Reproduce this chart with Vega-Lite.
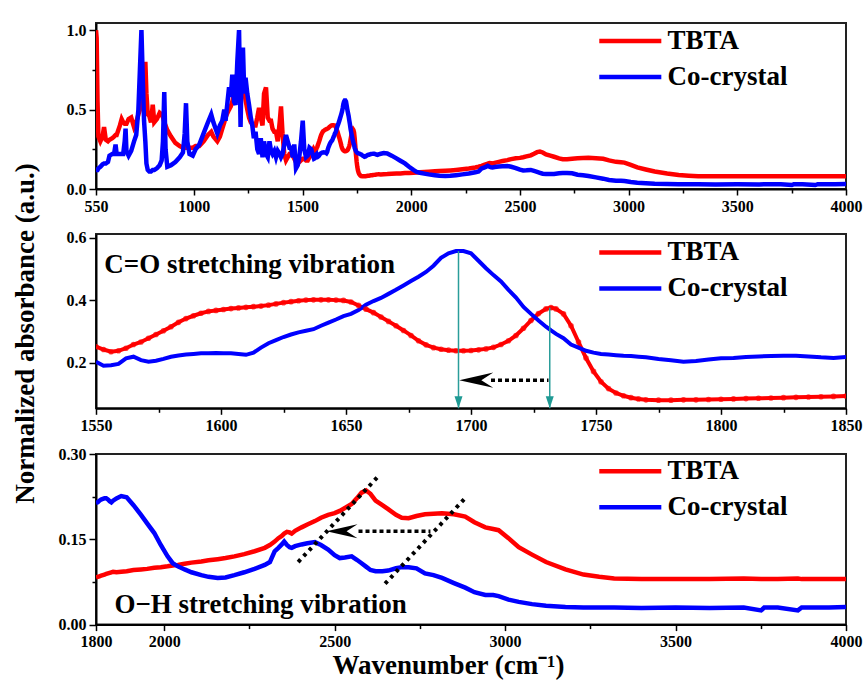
{
  "$schema": "https://vega.github.io/schema/vega-lite/v6.json",
  "background": "white",
  "padding": {"left": 9, "top": 21, "right": 0, "bottom": 0},
  "datasets": {
    "spectra": [
      {"w":550,"TBTA":1.0,"Co-crystal":0.12},{"w":553,"TBTA":0.95,"Co-crystal":0.12},{"w":557,"TBTA":0.55,"Co-crystal":0.12},
      {"w":561,"TBTA":0.33,"Co-crystal":0.13},{"w":570,"TBTA":0.30,"Co-crystal":0.14},{"w":580,"TBTA":0.33,"Co-crystal":0.155},
      {"w":587,"TBTA":0.39,"Co-crystal":0.16},{"w":595,"TBTA":0.31,"Co-crystal":0.16},{"w":605,"TBTA":0.30,"Co-crystal":0.17},
      {"w":612,"TBTA":0.31,"Co-crystal":0.21},{"w":625,"TBTA":0.32,"Co-crystal":0.22},{"w":633,"TBTA":0.33,"Co-crystal":0.22},
      {"w":640,"TBTA":0.34,"Co-crystal":0.28},{"w":645,"TBTA":0.34,"Co-crystal":0.22},{"w":660,"TBTA":0.40,"Co-crystal":0.22},
      {"w":668,"TBTA":0.44,"Co-crystal":0.22},{"w":675,"TBTA":0.42,"Co-crystal":0.22},{"w":682,"TBTA":0.41,"Co-crystal":0.30},
      {"w":686,"TBTA":0.41,"Co-crystal":0.38},{"w":690,"TBTA":0.41,"Co-crystal":0.24},{"w":700,"TBTA":0.44,"Co-crystal":0.21},
      {"w":712,"TBTA":0.45,"Co-crystal":0.24},{"w":725,"TBTA":0.39,"Co-crystal":0.30},{"w":735,"TBTA":0.42,"Co-crystal":0.34},
      {"w":745,"TBTA":0.47,"Co-crystal":0.50},{"w":752,"TBTA":0.50,"Co-crystal":0.75},{"w":759,"TBTA":0.55,"Co-crystal":1.0},
      {"w":765,"TBTA":0.60,"Co-crystal":0.70},{"w":771,"TBTA":0.70,"Co-crystal":0.43},{"w":777,"TBTA":0.80,"Co-crystal":0.30},
      {"w":782,"TBTA":0.60,"Co-crystal":0.16},{"w":788,"TBTA":0.47,"Co-crystal":0.12},{"w":795,"TBTA":0.46,"Co-crystal":0.11},
      {"w":803,"TBTA":0.42,"Co-crystal":0.11},{"w":811,"TBTA":0.53,"Co-crystal":0.12},{"w":818,"TBTA":0.42,"Co-crystal":0.12},
      {"w":830,"TBTA":0.44,"Co-crystal":0.13},{"w":843,"TBTA":0.48,"Co-crystal":0.15},{"w":852,"TBTA":0.47,"Co-crystal":0.18},
      {"w":858,"TBTA":0.45,"Co-crystal":0.30},{"w":864,"TBTA":0.42,"Co-crystal":0.61},{"w":870,"TBTA":0.40,"Co-crystal":0.25},
      {"w":878,"TBTA":0.37,"Co-crystal":0.14},{"w":895,"TBTA":0.33,"Co-crystal":0.15},{"w":915,"TBTA":0.29,"Co-crystal":0.17},
      {"w":935,"TBTA":0.27,"Co-crystal":0.20},{"w":950,"TBTA":0.26,"Co-crystal":0.23},{"w":958,"TBTA":0.26,"Co-crystal":0.35},
      {"w":964,"TBTA":0.26,"Co-crystal":0.54},{"w":970,"TBTA":0.26,"Co-crystal":0.30},{"w":980,"TBTA":0.26,"Co-crystal":0.22},
      {"w":995,"TBTA":0.26,"Co-crystal":0.21},{"w":1008,"TBTA":0.27,"Co-crystal":0.25},{"w":1025,"TBTA":0.27,"Co-crystal":0.28},
      {"w":1045,"TBTA":0.30,"Co-crystal":0.35},{"w":1065,"TBTA":0.34,"Co-crystal":0.42},{"w":1080,"TBTA":0.36,"Co-crystal":0.47},
      {"w":1090,"TBTA":0.33,"Co-crystal":0.42},{"w":1108,"TBTA":0.30,"Co-crystal":0.35},{"w":1120,"TBTA":0.33,"Co-crystal":0.40},
      {"w":1131,"TBTA":0.38,"Co-crystal":0.43},{"w":1140,"TBTA":0.42,"Co-crystal":0.50},{"w":1146,"TBTA":0.45,"Co-crystal":0.43},
      {"w":1155,"TBTA":0.48,"Co-crystal":0.55},{"w":1162,"TBTA":0.50,"Co-crystal":0.64},{"w":1170,"TBTA":0.52,"Co-crystal":0.58},
      {"w":1177,"TBTA":0.55,"Co-crystal":0.72},{"w":1185,"TBTA":0.60,"Co-crystal":0.55},{"w":1192,"TBTA":0.70,"Co-crystal":0.53},
      {"w":1200,"TBTA":0.72,"Co-crystal":0.80},{"w":1208,"TBTA":0.66,"Co-crystal":1.0},{"w":1215,"TBTA":0.60,"Co-crystal":0.39},
      {"w":1220,"TBTA":0.62,"Co-crystal":0.75},{"w":1226,"TBTA":0.64,"Co-crystal":0.89},{"w":1232,"TBTA":0.62,"Co-crystal":0.60},
      {"w":1238,"TBTA":0.56,"Co-crystal":0.70},{"w":1246,"TBTA":0.50,"Co-crystal":0.60},{"w":1254,"TBTA":0.45,"Co-crystal":0.53},
      {"w":1262,"TBTA":0.42,"Co-crystal":0.45},{"w":1269,"TBTA":0.41,"Co-crystal":0.40},{"w":1276,"TBTA":0.40,"Co-crystal":0.32},
      {"w":1284,"TBTA":0.40,"Co-crystal":0.36},{"w":1292,"TBTA":0.45,"Co-crystal":0.25},{"w":1300,"TBTA":0.51,"Co-crystal":0.22},
      {"w":1308,"TBTA":0.45,"Co-crystal":0.32},{"w":1316,"TBTA":0.40,"Co-crystal":0.20},{"w":1323,"TBTA":0.60,"Co-crystal":0.30},
      {"w":1332,"TBTA":0.64,"Co-crystal":0.22},{"w":1340,"TBTA":0.45,"Co-crystal":0.20},{"w":1348,"TBTA":0.43,"Co-crystal":0.30},
      {"w":1355,"TBTA":0.43,"Co-crystal":0.24},{"w":1362,"TBTA":0.38,"Co-crystal":0.22},{"w":1370,"TBTA":0.36,"Co-crystal":0.24},
      {"w":1378,"TBTA":0.36,"Co-crystal":0.20},{"w":1386,"TBTA":0.30,"Co-crystal":0.24},{"w":1395,"TBTA":0.42,"Co-crystal":0.22},
      {"w":1401,"TBTA":0.52,"Co-crystal":0.20},{"w":1408,"TBTA":0.35,"Co-crystal":0.22},{"w":1416,"TBTA":0.22,"Co-crystal":0.28},
      {"w":1424,"TBTA":0.18,"Co-crystal":0.34},{"w":1432,"TBTA":0.20,"Co-crystal":0.30},{"w":1440,"TBTA":0.22,"Co-crystal":0.26},
      {"w":1447,"TBTA":0.22,"Co-crystal":0.26},{"w":1455,"TBTA":0.21,"Co-crystal":0.20},{"w":1462,"TBTA":0.19,"Co-crystal":0.28},
      {"w":1470,"TBTA":0.17,"Co-crystal":0.13},{"w":1478,"TBTA":0.16,"Co-crystal":0.15},{"w":1485,"TBTA":0.17,"Co-crystal":0.20},
      {"w":1493,"TBTA":0.18,"Co-crystal":0.30},{"w":1501,"TBTA":0.19,"Co-crystal":0.43},{"w":1508,"TBTA":0.19,"Co-crystal":0.25},
      {"w":1516,"TBTA":0.18,"Co-crystal":0.20},{"w":1524,"TBTA":0.18,"Co-crystal":0.21},{"w":1532,"TBTA":0.20,"Co-crystal":0.26},
      {"w":1540,"TBTA":0.22,"Co-crystal":0.25},{"w":1546,"TBTA":0.24,"Co-crystal":0.22},
      {"w":1550,"TBTA":0.251,"Co-crystal":0.203},{"w":1553,"TBTA":0.242,"Co-crystal":0.190},{"w":1556,"TBTA":0.235,"Co-crystal":0.192},
      {"w":1559,"TBTA":0.238,"Co-crystal":0.196},{"w":1562,"TBTA":0.246,"Co-crystal":0.214},{"w":1565,"TBTA":0.258,"Co-crystal":0.219},
      {"w":1568,"TBTA":0.266,"Co-crystal":0.208},{"w":1571,"TBTA":0.278,"Co-crystal":0.203},{"w":1574,"TBTA":0.290,"Co-crystal":0.206},
      {"w":1577,"TBTA":0.302,"Co-crystal":0.212},{"w":1580,"TBTA":0.315,"Co-crystal":0.219},{"w":1583,"TBTA":0.329,"Co-crystal":0.223},
      {"w":1586,"TBTA":0.341,"Co-crystal":0.226},{"w":1589,"TBTA":0.350,"Co-crystal":0.228},{"w":1592,"TBTA":0.358,"Co-crystal":0.230},
      {"w":1595,"TBTA":0.364,"Co-crystal":0.230},{"w":1598,"TBTA":0.367,"Co-crystal":0.231},{"w":1601,"TBTA":0.370,"Co-crystal":0.230},
      {"w":1604,"TBTA":0.373,"Co-crystal":0.230},{"w":1607,"TBTA":0.375,"Co-crystal":0.228},{"w":1610,"TBTA":0.377,"Co-crystal":0.225},
      {"w":1613,"TBTA":0.379,"Co-crystal":0.232},{"w":1616,"TBTA":0.381,"Co-crystal":0.248},{"w":1619,"TBTA":0.384,"Co-crystal":0.262},
      {"w":1622,"TBTA":0.388,"Co-crystal":0.272},{"w":1625,"TBTA":0.392,"Co-crystal":0.282},{"w":1628,"TBTA":0.395,"Co-crystal":0.290},
      {"w":1631,"TBTA":0.398,"Co-crystal":0.297},{"w":1634,"TBTA":0.400,"Co-crystal":0.302},{"w":1637,"TBTA":0.401,"Co-crystal":0.307},
      {"w":1640,"TBTA":0.401,"Co-crystal":0.318},{"w":1643,"TBTA":0.401,"Co-crystal":0.328},{"w":1646,"TBTA":0.400,"Co-crystal":0.338},
      {"w":1649,"TBTA":0.399,"Co-crystal":0.349},{"w":1652,"TBTA":0.394,"Co-crystal":0.356},{"w":1655,"TBTA":0.383,"Co-crystal":0.368},
      {"w":1658,"TBTA":0.371,"Co-crystal":0.385},{"w":1661,"TBTA":0.360,"Co-crystal":0.397},{"w":1664,"TBTA":0.346,"Co-crystal":0.407},
      {"w":1667,"TBTA":0.332,"Co-crystal":0.420},{"w":1670,"TBTA":0.318,"Co-crystal":0.433},{"w":1673,"TBTA":0.303,"Co-crystal":0.447},
      {"w":1676,"TBTA":0.287,"Co-crystal":0.461},{"w":1679,"TBTA":0.270,"Co-crystal":0.475},{"w":1682,"TBTA":0.257,"Co-crystal":0.490},
      {"w":1685,"TBTA":0.248,"Co-crystal":0.510},{"w":1688,"TBTA":0.243,"Co-crystal":0.535},{"w":1691,"TBTA":0.240,"Co-crystal":0.550},
      {"w":1694,"TBTA":0.238,"Co-crystal":0.557},{"w":1697,"TBTA":0.238,"Co-crystal":0.557},{"w":1700,"TBTA":0.239,"Co-crystal":0.550},
      {"w":1703,"TBTA":0.241,"Co-crystal":0.526},{"w":1706,"TBTA":0.244,"Co-crystal":0.502},{"w":1709,"TBTA":0.249,"Co-crystal":0.480},
      {"w":1712,"TBTA":0.258,"Co-crystal":0.460},{"w":1715,"TBTA":0.270,"Co-crystal":0.433},{"w":1718,"TBTA":0.287,"Co-crystal":0.408},
      {"w":1721,"TBTA":0.310,"Co-crystal":0.378},{"w":1724,"TBTA":0.335,"Co-crystal":0.356},{"w":1727,"TBTA":0.357,"Co-crystal":0.335},
      {"w":1730,"TBTA":0.372,"Co-crystal":0.315},{"w":1732,"TBTA":0.376,"Co-crystal":0.303},{"w":1734,"TBTA":0.372,"Co-crystal":0.292},
      {"w":1737,"TBTA":0.356,"Co-crystal":0.278},{"w":1740,"TBTA":0.318,"Co-crystal":0.258},{"w":1743,"TBTA":0.266,"Co-crystal":0.248},
      {"w":1746,"TBTA":0.215,"Co-crystal":0.238},{"w":1749,"TBTA":0.172,"Co-crystal":0.232},{"w":1752,"TBTA":0.139,"Co-crystal":0.228},
      {"w":1755,"TBTA":0.117,"Co-crystal":0.226},{"w":1758,"TBTA":0.103,"Co-crystal":0.224},{"w":1761,"TBTA":0.094,"Co-crystal":0.222},
      {"w":1764,"TBTA":0.088,"Co-crystal":0.221},{"w":1767,"TBTA":0.084,"Co-crystal":0.219},{"w":1770,"TBTA":0.081,"Co-crystal":0.217},
      {"w":1775,"TBTA":0.080,"Co-crystal":0.212},{"w":1780,"TBTA":0.080,"Co-crystal":0.208},{"w":1785,"TBTA":0.081,"Co-crystal":0.203},
      {"w":1790,"TBTA":0.081,"Co-crystal":0.205},{"w":1795,"TBTA":0.082,"Co-crystal":0.210},{"w":1800,"TBTA":0.083,"Co-crystal":0.214},
      {"w":1805,"TBTA":0.084,"Co-crystal":0.215},{"w":1810,"TBTA":0.085,"Co-crystal":0.218},{"w":1815,"TBTA":0.086,"Co-crystal":0.220},
      {"w":1820,"TBTA":0.087,"Co-crystal":0.221},{"w":1825,"TBTA":0.088,"Co-crystal":0.222},{"w":1830,"TBTA":0.089,"Co-crystal":0.222},
      {"w":1835,"TBTA":0.090,"Co-crystal":0.220},{"w":1840,"TBTA":0.091,"Co-crystal":0.217},{"w":1845,"TBTA":0.092,"Co-crystal":0.215},
      {"w":1850,"TBTA":0.093,"Co-crystal":0.218},
      {"w":1860,"TBTA":0.092,"Co-crystal":0.222},{"w":1874,"TBTA":0.093,"Co-crystal":0.226},{"w":1890,"TBTA":0.094,"Co-crystal":0.224},
      {"w":1910,"TBTA":0.096,"Co-crystal":0.210},{"w":1932,"TBTA":0.097,"Co-crystal":0.193},{"w":1950,"TBTA":0.098,"Co-crystal":0.178},
      {"w":1971,"TBTA":0.100,"Co-crystal":0.161},{"w":1990,"TBTA":0.101,"Co-crystal":0.140},{"w":2010,"TBTA":0.1025,"Co-crystal":0.120},
      {"w":2025,"TBTA":0.104,"Co-crystal":0.108},{"w":2040,"TBTA":0.105,"Co-crystal":0.1025},{"w":2060,"TBTA":0.107,"Co-crystal":0.097},
      {"w":2080,"TBTA":0.109,"Co-crystal":0.092},{"w":2109,"TBTA":0.111,"Co-crystal":0.087},{"w":2130,"TBTA":0.113,"Co-crystal":0.084},
      {"w":2157,"TBTA":0.115,"Co-crystal":0.082},{"w":2180,"TBTA":0.117,"Co-crystal":0.083},{"w":2206,"TBTA":0.120,"Co-crystal":0.087},
      {"w":2235,"TBTA":0.124,"Co-crystal":0.092},{"w":2265,"TBTA":0.129,"Co-crystal":0.098},{"w":2295,"TBTA":0.135,"Co-crystal":0.105},
      {"w":2310,"TBTA":0.140,"Co-crystal":0.110},{"w":2324,"TBTA":0.146,"Co-crystal":0.129},{"w":2335,"TBTA":0.152,"Co-crystal":0.135},
      {"w":2345,"TBTA":0.156,"Co-crystal":0.141},{"w":2352,"TBTA":0.160,"Co-crystal":0.146},{"w":2360,"TBTA":0.163,"Co-crystal":0.140},
      {"w":2368,"TBTA":0.162,"Co-crystal":0.136},{"w":2374,"TBTA":0.160,"Co-crystal":0.135},{"w":2384,"TBTA":0.165,"Co-crystal":0.138},
      {"w":2403,"TBTA":0.171,"Co-crystal":0.141},{"w":2420,"TBTA":0.176,"Co-crystal":0.143},{"w":2442,"TBTA":0.182,"Co-crystal":0.145},
      {"w":2460,"TBTA":0.188,"Co-crystal":0.140},{"w":2481,"TBTA":0.193,"Co-crystal":0.132},{"w":2500,"TBTA":0.196,"Co-crystal":0.122},
      {"w":2515,"TBTA":0.200,"Co-crystal":0.117},{"w":2530,"TBTA":0.205,"Co-crystal":0.118},{"w":2550,"TBTA":0.212,"Co-crystal":0.120},
      {"w":2565,"TBTA":0.222,"Co-crystal":0.114},{"w":2579,"TBTA":0.232,"Co-crystal":0.108},{"w":2592,"TBTA":0.236,"Co-crystal":0.102},
      {"w":2605,"TBTA":0.230,"Co-crystal":0.096},{"w":2620,"TBTA":0.218,"Co-crystal":0.094},{"w":2640,"TBTA":0.210,"Co-crystal":0.094},
      {"w":2657,"TBTA":0.203,"Co-crystal":0.095},{"w":2680,"TBTA":0.193,"Co-crystal":0.099},{"w":2697,"TBTA":0.188,"Co-crystal":0.101},
      {"w":2717,"TBTA":0.187,"Co-crystal":0.101},{"w":2740,"TBTA":0.191,"Co-crystal":0.099},{"w":2765,"TBTA":0.194,"Co-crystal":0.090},
      {"w":2790,"TBTA":0.195,"Co-crystal":0.087},{"w":2815,"TBTA":0.196,"Co-crystal":0.082},{"w":2850,"TBTA":0.194,"Co-crystal":0.073},
      {"w":2883,"TBTA":0.190,"Co-crystal":0.065},{"w":2910,"TBTA":0.180,"Co-crystal":0.057},{"w":2942,"TBTA":0.171,"Co-crystal":0.052},
      {"w":2965,"TBTA":0.168,"Co-crystal":0.052},{"w":2981,"TBTA":0.166,"Co-crystal":0.050},{"w":3010,"TBTA":0.152,"Co-crystal":0.044},
      {"w":3040,"TBTA":0.136,"Co-crystal":0.040},{"w":3079,"TBTA":0.123,"Co-crystal":0.036},{"w":3120,"TBTA":0.110,"Co-crystal":0.033},
      {"w":3177,"TBTA":0.097,"Co-crystal":0.031},{"w":3230,"TBTA":0.088,"Co-crystal":0.030},{"w":3276,"TBTA":0.084,"Co-crystal":0.030},
      {"w":3320,"TBTA":0.081,"Co-crystal":0.030},{"w":3400,"TBTA":0.080,"Co-crystal":0.029},{"w":3500,"TBTA":0.080,"Co-crystal":0.030},
      {"w":3600,"TBTA":0.080,"Co-crystal":0.029},{"w":3700,"TBTA":0.081,"Co-crystal":0.030},{"w":3751,"TBTA":0.080,"Co-crystal":0.025},
      {"w":3760,"TBTA":0.080,"Co-crystal":0.030},{"w":3800,"TBTA":0.080,"Co-crystal":0.030},{"w":3859,"TBTA":0.081,"Co-crystal":0.025},
      {"w":3870,"TBTA":0.080,"Co-crystal":0.030},{"w":3950,"TBTA":0.080,"Co-crystal":0.030},{"w":4000,"TBTA":0.080,"Co-crystal":0.031}
    ]
  },
  "config": {
    "font": "Liberation Serif",
    "view": {"stroke": "#222", "strokeWidth": 2},
    "axis": {
      "grid": false,
      "labelFont": "Liberation Serif", "labelFontWeight": "bold", "labelFontSize": 16, "labelColor": "#000",
      "titleFont": "Liberation Serif", "titleFontWeight": "bold", "titleFontSize": 27, "titleColor": "#000",
      "domainColor": "#000", "domainWidth": 2, "tickColor": "#000", "tickWidth": 1.5,
      "labelFlush": false, "labelOverlap": false, "labelBound": false, "labelPadding": 3
    },
    "legend": {
      "labelFont": "Liberation Serif", "labelFontWeight": "bold", "labelFontSize": 27, "labelColor": "#000",
      "symbolStrokeWidth": 4.5, "padding": 0
    }
  },
  "resolve": {"scale": {"x": "independent", "y": "independent"}, "legend": {"color": "independent"}},
  "bounds": "flush",
  "spacing": 45,
  "vconcat": [
    {
      "width": 750, "height": 166,
      "data": {"name": "spectra"},
      "transform": [{"fold": ["TBTA", "Co-crystal"], "as": ["series", "a"]}],
      "mark": {"type": "line", "strokeWidth": 4.5, "clip": true},
      "encoding": {
        "x": {"field": "w", "type": "quantitative",
          "scale": {"domain": [550, 4000], "nice": false, "zero": false},
          "axis": {"title": null, "format": "d",
            "values": [550, 1000, 1250, 1500, 1750, 2000, 2250, 2500, 2750, 3000, 3250, 3500, 3750, 4000],
            "labelExpr": "(datum.value == 550 || datum.value % 500 == 0) ? datum.label : ''",
            "tickSize": {"condition": {"test": "datum.value == 550 || datum.value % 500 == 0", "value": 6}, "value": 4}}},
        "y": {"field": "a", "type": "quantitative",
          "scale": {"domain": [0, 1.045], "nice": false, "zero": false},
          "axis": {"title": null, "format": ".1f", "values": [0, 0.25, 0.5, 0.75, 1.0],
            "labelExpr": "abs(datum.value * 2 - round(datum.value * 2)) < 0.001 ? datum.label : ''",
            "tickSize": {"condition": {"test": "abs(datum.value * 2 - round(datum.value * 2)) < 0.001", "value": 7}, "value": 4}}},
        "color": {"field": "series", "type": "nominal",
          "scale": {"domain": ["TBTA", "Co-crystal"], "range": ["#ff0000", "#0000ff"]},
          "legend": {"title": null, "orient": "none", "legendX": 520.8, "legendY": 4.5,
            "symbolType": "M-5,0 L5,0", "symbolSize": 154, "labelOffset": 23.8, "rowPadding": 8}}
      }
    },
    {
      "width": 750, "height": 174.3,
      "layer": [
        {
          "data": {"name": "spectra"},
          "transform": [
            {"filter": "datum.w >= 1550 && datum.w <= 1850"},
            {"fold": ["TBTA", "Co-crystal"], "as": ["series", "a"]}
          ],
          "mark": {"type": "line", "clip": true, "strokeWidth": 4},
          "encoding": {
            "x": {"field": "w", "type": "quantitative",
              "scale": {"domain": [1550, 1850], "nice": false, "zero": false},
              "axis": {"title": null, "format": "d",
                "values": [1550, 1575, 1600, 1625, 1650, 1675, 1700, 1725, 1750, 1775, 1800, 1825, 1850],
                "labelExpr": "datum.value % 50 == 0 ? datum.label : ''",
                "tickSize": {"condition": {"test": "datum.value % 50 == 0", "value": 6}, "value": 4}}},
            "y": {"field": "a", "type": "quantitative",
              "scale": {"domain": [0.054, 0.6115], "nice": false, "zero": false},
              "axis": {"title": "Normalized absorbance (a.u.)", "titlePadding": 27, "titleY": 99,
                "format": ".1f", "values": [0.2, 0.4, 0.6], "tickSize": 7}},
            "color": {"field": "series", "type": "nominal",
              "scale": {"domain": ["TBTA", "Co-crystal"], "range": ["#ff0000", "#0000ff"]},
              "legend": {"title": null, "orient": "none", "legendX": 520.8, "legendY": 4.9,
                "symbolType": "M-5,0 L5,0", "symbolSize": 154, "labelOffset": 23.8, "rowPadding": 8}}
          }
        },
        {
          "data": {"name": "spectra"},
          "transform": [
            {"filter": "datum.w >= 1550 && datum.w <= 1850"},
            {"fold": ["TBTA"], "as": ["series", "a"]}
          ],
          "mark": {"type": "point", "filled": false, "size": 18, "strokeWidth": 1.4, "clip": true},
          "encoding": {
            "x": {"field": "w", "type": "quantitative"},
            "y": {"field": "a", "type": "quantitative"},
            "color": {"field": "series", "type": "nominal", "legend": null}
          }
        },
        {
          "data": {"values": [{"w": 1695, "a": 0.557, "a2": 0.054}, {"w": 1731.5, "a": 0.376, "a2": 0.054}]},
          "mark": {"type": "rule", "color": "#2a9d9a", "strokeWidth": 1.5},
          "encoding": {
            "x": {"field": "w", "type": "quantitative"},
            "y": {"field": "a", "type": "quantitative"},
            "y2": {"field": "a2"}
          }
        },
        {
          "data": {"values": [{"w": 1695, "a": 0.054}, {"w": 1731.5, "a": 0.054}]},
          "mark": {"type": "point", "shape": "M0,0 L-0.6,-1.8 L0.6,-1.8 Z", "size": 178, "filled": true, "color": "#1f9a94", "opacity": 1},
          "encoding": {
            "x": {"field": "w", "type": "quantitative"},
            "y": {"field": "a", "type": "quantitative"}
          }
        },
        {
          "data": {"values": [{"w": 1708, "w2": 1731, "a": 0.144}]},
          "mark": {"type": "rule", "color": "#000", "strokeWidth": 3.5, "strokeDash": [4, 3]},
          "encoding": {
            "x": {"field": "w", "type": "quantitative"},
            "x2": {"field": "w2"},
            "y": {"field": "a", "type": "quantitative"}
          }
        },
        {
          "data": {"values": [{"w": 1695.3, "a": 0.144}]},
          "mark": {"type": "point", "shape": "M0,0 L2,-0.45 L1.3,0 L2,0.45 Z", "size": 1156, "filled": true, "color": "#000", "opacity": 1},
          "encoding": {
            "x": {"field": "w", "type": "quantitative"},
            "y": {"field": "a", "type": "quantitative"}
          }
        },
        {
          "data": {"values": [{"w": 1553.3, "a": 0.486, "label": "C=O stretching vibration"}]},
          "mark": {"type": "text", "align": "left", "baseline": "alphabetic", "font": "Liberation Serif", "fontWeight": "bold", "fontSize": 27, "color": "#000"},
          "encoding": {
            "x": {"field": "w", "type": "quantitative"},
            "y": {"field": "a", "type": "quantitative"},
            "text": {"field": "label"}
          }
        }
      ]
    },
    {
      "width": 750, "height": 170.6,
      "layer": [
        {
          "data": {"name": "spectra"},
          "transform": [
            {"filter": "datum.w >= 1800"},
            {"fold": ["TBTA", "Co-crystal"], "as": ["series", "a"]}
          ],
          "mark": {"type": "line", "strokeWidth": 4.5, "clip": true},
          "encoding": {
            "x": {"field": "w", "type": "quantitative",
              "scale": {"domain": [1800, 4000], "nice": false, "zero": false},
              "axis": {"title": "Wavenumber (cm⁻¹)", "titlePadding": 3, "titleX": 352, "format": "d",
                "values": [1800, 2000, 2250, 2500, 2750, 3000, 3250, 3500, 3750, 4000],
                "labelExpr": "(datum.value == 1800 || datum.value % 500 == 0) ? datum.label : ''",
                "tickSize": {"condition": {"test": "datum.value == 1800 || datum.value % 500 == 0", "value": 6}, "value": 4}}},
            "y": {"field": "a", "type": "quantitative",
              "scale": {"domain": [0, 0.3], "nice": false, "zero": false},
              "axis": {"title": null, "format": ".2f", "values": [0, 0.075, 0.15, 0.225, 0.3],
                "labelExpr": "round(datum.value * 1000) % 150 == 0 ? datum.label : ''",
                "tickSize": {"condition": {"test": "round(datum.value * 1000) % 150 == 0", "value": 7}, "value": 4}}},
            "color": {"field": "series", "type": "nominal",
              "scale": {"domain": ["TBTA", "Co-crystal"], "range": ["#ff0000", "#0000ff"]},
              "legend": {"title": null, "orient": "none", "legendX": 520.8, "legendY": 3.8,
                "symbolType": "M-5,0 L5,0", "symbolSize": 154, "labelOffset": 23.8, "rowPadding": 8}}
          }
        },
        {
          "data": {"values": [{"w": 2393, "a": 0.110, "w2": 2633, "a2": 0.264}, {"w": 2648, "a": 0.072, "w2": 2888, "a2": 0.2256}]},
          "mark": {"type": "rule", "color": "#000", "strokeWidth": 4, "strokeDash": [3.5, 4.5]},
          "encoding": {
            "x": {"field": "w", "type": "quantitative"},
            "x2": {"field": "w2"},
            "y": {"field": "a", "type": "quantitative"},
            "y2": {"field": "a2"}
          }
        },
        {
          "data": {"values": [{"w": 2570, "w2": 2781, "a": 0.164}]},
          "mark": {"type": "rule", "color": "#000", "strokeWidth": 3.5, "strokeDash": [4, 3]},
          "encoding": {
            "x": {"field": "w", "type": "quantitative"},
            "x2": {"field": "w2"},
            "y": {"field": "a", "type": "quantitative"}
          }
        },
        {
          "data": {"values": [{"w": 2476, "a": 0.164}]},
          "mark": {"type": "point", "shape": "M0,0 L2,-0.45 L1.3,0 L2,0.45 Z", "size": 961, "filled": true, "color": "#000", "opacity": 1},
          "encoding": {
            "x": {"field": "w", "type": "quantitative"},
            "y": {"field": "a", "type": "quantitative"}
          }
        },
        {
          "data": {"values": [{"w": 1854, "a": 0.0204, "label": "O−H stretching vibration"}]},
          "mark": {"type": "text", "align": "left", "baseline": "alphabetic", "font": "Liberation Serif", "fontWeight": "bold", "fontSize": 27, "color": "#000"},
          "encoding": {
            "x": {"field": "w", "type": "quantitative"},
            "y": {"field": "a", "type": "quantitative"},
            "text": {"field": "label"}
          }
        }
      ]
    }
  ]
}
